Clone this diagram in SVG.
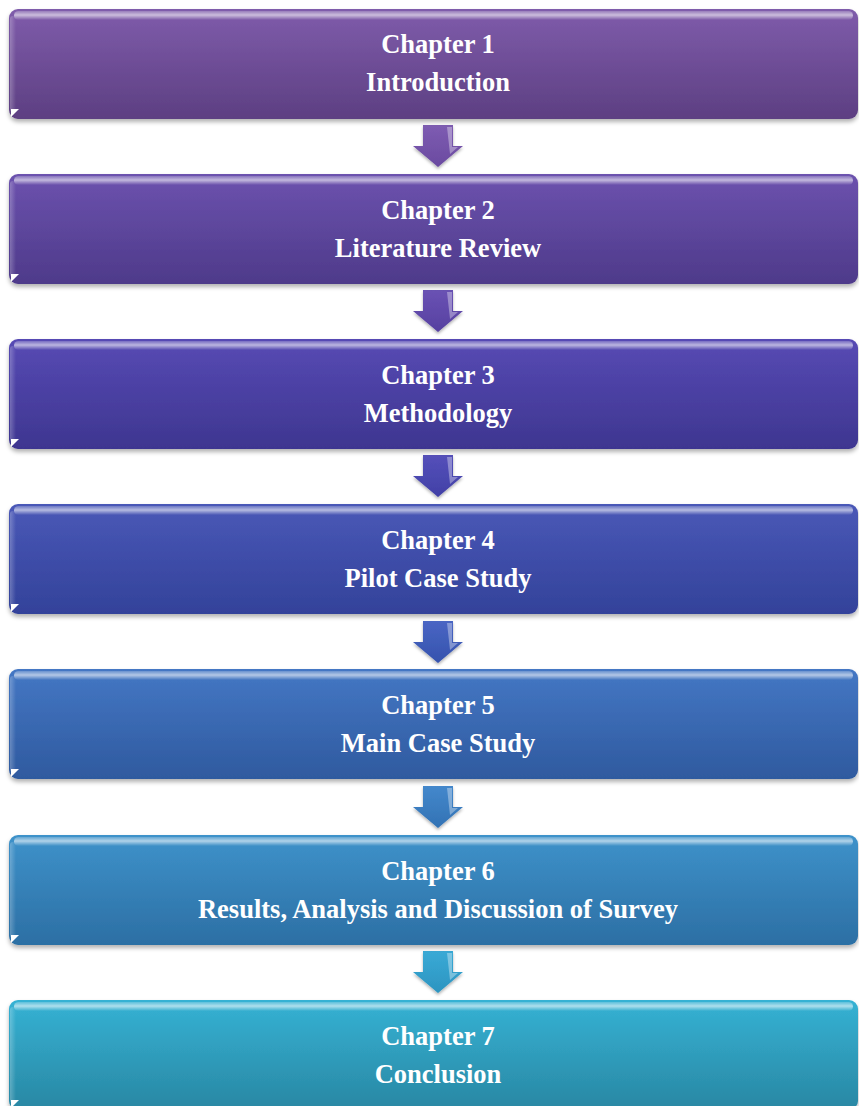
<svg xmlns="http://www.w3.org/2000/svg" width="859" height="1106" viewBox="0 0 859 1106">
  <style>
    .title { font-family: "Liberation Serif", "Times New Roman", serif; font-weight: bold; font-size: 26.5px; fill: #ffffff; text-anchor: middle; }
    .gloss { fill: url(#gloss); }
    .edge { fill: url(#edge); }
    .corner { fill: #ffffff; }
    .facet { fill: #ffffff; opacity: 0.35; }
  </style>
  <defs>
    <filter id="shadow" x="-5%" y="-20%" width="110%" height="150%">
      <feDropShadow dx="0" dy="3" stdDeviation="2.2" flood-color="#000" flood-opacity="0.3"/>
    </filter>
    <filter id="ashadow" x="-30%" y="-30%" width="160%" height="160%">
      <feDropShadow dx="0" dy="2" stdDeviation="1.5" flood-color="#000" flood-opacity="0.3"/>
    </filter>
    <linearGradient id="gloss" x1="0" y1="0" x2="0" y2="1">
      <stop offset="0" stop-color="#ffffff" stop-opacity="0.2"/>
      <stop offset="0.45" stop-color="#ffffff" stop-opacity="0.6"/>
      <stop offset="1" stop-color="#ffffff" stop-opacity="0"/>
    </linearGradient>
    <linearGradient id="edge" x1="0" y1="0" x2="1" y2="0">
      <stop offset="0" stop-color="#ffffff" stop-opacity="0.25"/>
      <stop offset="1" stop-color="#ffffff" stop-opacity="0"/>
    </linearGradient>
    <linearGradient id="g1" x1="0" y1="0" x2="0" y2="1"><stop offset="0" stop-color="#7f5cab"/><stop offset="1" stop-color="#5d3f82"/></linearGradient>
    <linearGradient id="g2" x1="0" y1="0" x2="0" y2="1"><stop offset="0" stop-color="#6c52ae"/><stop offset="1" stop-color="#4e3a8a"/></linearGradient>
    <linearGradient id="g3" x1="0" y1="0" x2="0" y2="1"><stop offset="0" stop-color="#574ab4"/><stop offset="1" stop-color="#3e3690"/></linearGradient>
    <linearGradient id="g4" x1="0" y1="0" x2="0" y2="1"><stop offset="0" stop-color="#4a58b7"/><stop offset="1" stop-color="#33429a"/></linearGradient>
    <linearGradient id="g5" x1="0" y1="0" x2="0" y2="1"><stop offset="0" stop-color="#4477c4"/><stop offset="1" stop-color="#2f5a9f"/></linearGradient>
    <linearGradient id="g6" x1="0" y1="0" x2="0" y2="1"><stop offset="0" stop-color="#3e92ca"/><stop offset="1" stop-color="#2c6fa4"/></linearGradient>
    <linearGradient id="g7" x1="0" y1="0" x2="0" y2="1"><stop offset="0" stop-color="#35b2d4"/><stop offset="1" stop-color="#2987a3"/></linearGradient>
    <linearGradient id="a1" x1="0" y1="0" x2="0" y2="1"><stop offset="0" stop-color="#7e5cb2"/><stop offset="1" stop-color="#6a4aa0"/></linearGradient>
    <linearGradient id="a2" x1="0" y1="0" x2="0" y2="1"><stop offset="0" stop-color="#6a52b4"/><stop offset="1" stop-color="#5640a0"/></linearGradient>
    <linearGradient id="a3" x1="0" y1="0" x2="0" y2="1"><stop offset="0" stop-color="#5550ba"/><stop offset="1" stop-color="#4140a6"/></linearGradient>
    <linearGradient id="a4" x1="0" y1="0" x2="0" y2="1"><stop offset="0" stop-color="#4a66c4"/><stop offset="1" stop-color="#3552ad"/></linearGradient>
    <linearGradient id="a5" x1="0" y1="0" x2="0" y2="1"><stop offset="0" stop-color="#4488cc"/><stop offset="1" stop-color="#3272b4"/></linearGradient>
    <linearGradient id="a6" x1="0" y1="0" x2="0" y2="1"><stop offset="0" stop-color="#3aaad6"/><stop offset="1" stop-color="#2c94c0"/></linearGradient>
    <!-- down arrow shape, tip at (25,42) -->
    <path id="arrow" d="M10,0 H40 V21 H50 L25,42 L0,21 H10 Z"/>
    <path id="arrowFacet" d="M34,2 H39 V22 H45 L37,29 Z"/>
  </defs>

  <!-- connectors between chapters -->
  <g id="connectors">
    <g transform="translate(413,125)" filter="url(#ashadow)"><use href="#arrow" fill="url(#a1)"/><use href="#arrowFacet" class="facet"/></g>
    <g transform="translate(413,290)" filter="url(#ashadow)"><use href="#arrow" fill="url(#a2)"/><use href="#arrowFacet" class="facet"/></g>
    <g transform="translate(413,455)" filter="url(#ashadow)"><use href="#arrow" fill="url(#a3)"/><use href="#arrowFacet" class="facet"/></g>
    <g transform="translate(413,621)" filter="url(#ashadow)"><use href="#arrow" fill="url(#a4)"/><use href="#arrowFacet" class="facet"/></g>
    <g transform="translate(413,786)" filter="url(#ashadow)"><use href="#arrow" fill="url(#a5)"/><use href="#arrowFacet" class="facet"/></g>
    <g transform="translate(413,951)" filter="url(#ashadow)"><use href="#arrow" fill="url(#a6)"/><use href="#arrowFacet" class="facet"/></g>
  </g>

  <g id="chapter1">
    <rect x="9" y="9" width="849" height="110" rx="9" fill="url(#g1)" filter="url(#shadow)"/>
    <rect x="14" y="11" width="839" height="9" rx="4.5" class="gloss"/>
    <rect x="10" y="16" width="6" height="96" rx="3" class="edge"/>
    <path d="M11,117 L11,109 L19,109 Z" class="corner"/>
    <text class="title" x="438" y="53">Chapter 1</text>
    <text class="title" x="438" y="91">Introduction</text>
  </g>

  <g id="chapter2">
    <rect x="9" y="174" width="849" height="110" rx="9" fill="url(#g2)" filter="url(#shadow)"/>
    <rect x="14" y="176" width="839" height="9" rx="4.5" class="gloss"/>
    <rect x="10" y="181" width="6" height="96" rx="3" class="edge"/>
    <path d="M11,282 L11,274 L19,274 Z" class="corner"/>
    <text class="title" x="438" y="219">Chapter 2</text>
    <text class="title" x="438" y="257">Literature Review</text>
  </g>

  <g id="chapter3">
    <rect x="9" y="339" width="849" height="110" rx="9" fill="url(#g3)" filter="url(#shadow)"/>
    <rect x="14" y="341" width="839" height="9" rx="4.5" class="gloss"/>
    <rect x="10" y="346" width="6" height="96" rx="3" class="edge"/>
    <path d="M11,447 L11,439 L19,439 Z" class="corner"/>
    <text class="title" x="438" y="384">Chapter 3</text>
    <text class="title" x="438" y="422">Methodology</text>
  </g>

  <g id="chapter4">
    <rect x="9" y="504" width="849" height="110" rx="9" fill="url(#g4)" filter="url(#shadow)"/>
    <rect x="14" y="506" width="839" height="9" rx="4.5" class="gloss"/>
    <rect x="10" y="511" width="6" height="96" rx="3" class="edge"/>
    <path d="M11,612 L11,604 L19,604 Z" class="corner"/>
    <text class="title" x="438" y="549">Chapter 4</text>
    <text class="title" x="438" y="587">Pilot Case Study</text>
  </g>

  <g id="chapter5">
    <rect x="9" y="669" width="849" height="110" rx="9" fill="url(#g5)" filter="url(#shadow)"/>
    <rect x="14" y="671" width="839" height="9" rx="4.5" class="gloss"/>
    <rect x="10" y="676" width="6" height="96" rx="3" class="edge"/>
    <path d="M11,777 L11,769 L19,769 Z" class="corner"/>
    <text class="title" x="438" y="714">Chapter 5</text>
    <text class="title" x="438" y="752">Main Case Study</text>
  </g>

  <g id="chapter6">
    <rect x="9" y="835" width="849" height="110" rx="9" fill="url(#g6)" filter="url(#shadow)"/>
    <rect x="14" y="837" width="839" height="9" rx="4.5" class="gloss"/>
    <rect x="10" y="842" width="6" height="96" rx="3" class="edge"/>
    <path d="M11,943 L11,935 L19,935 Z" class="corner"/>
    <text class="title" x="438" y="880">Chapter 6</text>
    <text class="title" x="438" y="918">Results, Analysis and Discussion of Survey</text>
  </g>

  <g id="chapter7">
    <rect x="9" y="1000" width="849" height="110" rx="9" fill="url(#g7)" filter="url(#shadow)"/>
    <rect x="14" y="1002" width="839" height="9" rx="4.5" class="gloss"/>
    <rect x="10" y="1007" width="6" height="96" rx="3" class="edge"/>
    <path d="M11,1108 L11,1100 L19,1100 Z" class="corner"/>
    <text class="title" x="438" y="1045">Chapter 7</text>
    <text class="title" x="438" y="1083">Conclusion</text>
  </g>
</svg>
